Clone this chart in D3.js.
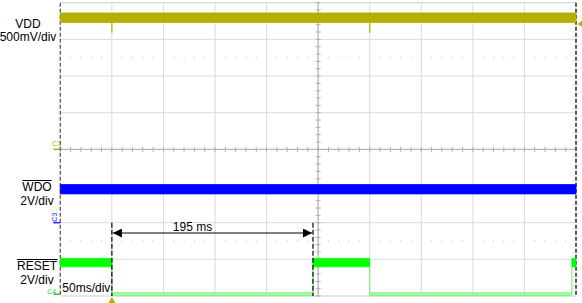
<!DOCTYPE html>
<html>
<head>
<meta charset="utf-8">
<script src="https://cdn.jsdelivr.net/npm/d3@7"></script>
<style>
  body { margin: 0; background: #fff; }
  text { font-family: "Liberation Sans", Arial, sans-serif; }
</style>
</head>
<body>
<svg id="scope" width="582" height="303"></svg>
<script>
// time in ms from the trigger, vertical in divisions
const timeDomain = [-50, 450]
const divDomain = [-4, 4]
const timeGrid = [0, 50, 100, 150, 200, 250, 300, 350, 400]
const divGrid = [-3, -2, -1, 0, 1, 2, 3]
const dottedRows = [2.5, -2.5]

// channels: volts per div and ground position (div)
const channelNames = ["VDD", "WDO", "RESET"]
const channelScale = ["500mV/div", "2V/div", "2V/div"]
const channelTag = ["C1", "C3", "C4"]
const voltsPerDiv = [0.5, 2, 2]
const groundDiv = [0, -2, -3.95]
const traceColor = ["#b5b000", "#0000ff", "#00ff00"]

// VDD, noisy band ~1.8 V with dips at the reset edges
const vddBand = [1.73, 1.86]
const vddDipTimes = [0, 250]
const vddDipLow = 1.59
const triggerLevel = 1.71

// WDO band
const wdoBand = [1.57, 2.08]

// RESET: edges and state between them
const resetEdges = [-50, 0, 195, 250, 446, 450]
const resetState = [1, 0, 1, 0, 1]
const resetHighBand = [1.49, 1.95]
const resetLowBand = [-0.08, 0.08]

// cursors
const cursorTimes = [0, 195]
const cursorText = "195 ms"
const timebase = "50ms/div"

let svg = d3.select("#scope")

let x = d3.scaleLinear().domain(timeDomain).range([60.3, 576])
let yDiv = d3.scaleLinear().domain(divDomain).range([296, 2.7])
let yCh = (i, v) => yDiv(groundDiv[i] + v / voltsPerDiv[i])

// ---- graticule
let grid = svg.append("g").attr("id", "grid")

grid.selectAll("line.v")
  .data(timeGrid)
  .join("line")
  .attr("class", "v")
  .attr("x1", d => x(d)).attr("x2", d => x(d))
  .attr("y1", yDiv(-4)).attr("y2", yDiv(4))
  .style("stroke", "#dadada")

grid.selectAll("line.h")
  .data(divGrid)
  .join("line")
  .attr("class", "h")
  .attr("x1", x(-50)).attr("x2", x(450))
  .attr("y1", d => yDiv(d)).attr("y2", d => yDiv(d))
  .style("stroke", "#dadada")

// top and bottom frame
grid.selectAll("line.f")
  .data([-4, 4])
  .join("line")
  .attr("class", "f")
  .attr("x1", x(-50)).attr("x2", x(450))
  .attr("y1", d => yDiv(d)).attr("y2", d => yDiv(d))
  .style("stroke", "#cfcfcf")

// dotted rows
let minorT = d3.range(-50, 451, 10).filter(t => (t + 50) % 50 != 0)
dottedRows.forEach(r => {
  grid.append("g").selectAll("rect")
    .data(minorT)
    .join("rect")
    .attr("x", d => x(d) - 0.5)
    .attr("y", yDiv(r) - 0.5)
    .attr("width", 1).attr("height", 1)
    .style("fill", "#bbbbbb")
})

// center cross with ticks
grid.append("line")
  .attr("x1", x(-50)).attr("x2", x(450))
  .attr("y1", yDiv(0)).attr("y2", yDiv(0))
  .style("stroke", "#b0b0b0")
grid.append("line")
  .attr("x1", x(200)).attr("x2", x(200))
  .attr("y1", yDiv(-4)).attr("y2", yDiv(4))
  .style("stroke", "#b0b0b0")
grid.append("g").selectAll("line")
  .data(d3.range(-50, 451, 10))
  .join("line")
  .attr("x1", d => x(d)).attr("x2", d => x(d))
  .attr("y1", yDiv(0) - 2.5).attr("y2", yDiv(0) + 2.5)
  .style("stroke", "#b0b0b0")
grid.append("g").selectAll("line")
  .data(d3.range(-4, 4.01, 0.2))
  .join("line")
  .attr("x1", x(200) - 2.5).attr("x2", x(200) + 2.5)
  .attr("y1", d => yDiv(d)).attr("y2", d => yDiv(d))
  .style("stroke", "#b0b0b0")

// left/right dashed borders
grid.selectAll("line.edge")
  .data(timeDomain)
  .join("line")
  .attr("class", "edge")
  .attr("x1", d => x(d)).attr("x2", d => x(d))
  .attr("y1", yDiv(4)).attr("y2", yDiv(-4))
  .style("stroke", "#5a5a5a")
  .style("stroke-width", d => d == 450 ? 2 : 1.3)
  .style("stroke-dasharray", "4,2")

// ---- traces
let band = (i, lo, hi) => d3.area()
  .x(d => x(d))
  .y0(yCh(i, lo))
  .y1(yCh(i, hi))

// VDD
svg.append("path")
  .attr("d", band(0, vddBand[0], vddBand[1])(timeDomain))
  .style("fill", traceColor[0])
  .style("stroke", traceColor[0])
  .style("stroke-width", 0.8)
svg.append("g").selectAll("line")
  .data(vddDipTimes)
  .join("line")
  .attr("x1", d => x(d)).attr("x2", d => x(d))
  .attr("y1", yCh(0, vddBand[0])).attr("y2", yCh(0, vddDipLow))
  .style("stroke", traceColor[0])
  .style("stroke-width", 1.2)

// WDO
svg.append("path")
  .attr("d", band(1, wdoBand[0], wdoBand[1])(timeDomain))
  .style("fill", traceColor[1])
  .style("stroke", traceColor[1])
  .style("stroke-width", 0.8)

// RESET
let resetSegs = resetState.map((s, k) => ({ s: s, t0: resetEdges[k], t1: resetEdges[k + 1] }))
svg.append("g").selectAll("path")
  .data(resetSegs)
  .join("path")
  .attr("d", d => d.s
    ? band(2, resetHighBand[0], resetHighBand[1])([d.t0, d.t1])
    : band(2, resetLowBand[0], resetLowBand[1])([d.t0, d.t1]))
  .style("fill", d => d.s ? traceColor[2] : "#9dff9d")
  .style("stroke", d => d.s ? traceColor[2] : "#7cf07c")
  .style("stroke-width", 0.8)
svg.append("g").selectAll("line")
  .data(resetEdges.slice(1, -1))
  .join("line")
  .attr("x1", d => x(d)).attr("x2", d => x(d))
  .attr("y1", yCh(2, resetLowBand[1])).attr("y2", yCh(2, resetHighBand[0]))
  .style("stroke", "#7cf07c")
  .style("stroke-width", 1.2)

// ---- cursors
let arrowY = 233
svg.append("defs").append("marker")
  .attr("id", "arr")
  .attr("viewBox", "0 0 10 10")
  .attr("refX", 10).attr("refY", 5)
  .attr("markerWidth", 9).attr("markerHeight", 9)
  .attr("markerUnits", "userSpaceOnUse")
  .attr("orient", "auto-start-reverse")
  .append("path")
  .attr("d", "M0,0L10,5L0,10Z")
  .style("fill", "#000")

svg.append("g").selectAll("line")
  .data(cursorTimes)
  .join("line")
  .attr("x1", d => x(d)).attr("x2", d => x(d))
  .attr("y1", yDiv(-2)).attr("y2", yDiv(-4))
  .style("stroke", "#000")
  .style("stroke-width", 1.2)
  .style("stroke-dasharray", "5,2")

svg.append("line")
  .attr("x1", x(cursorTimes[0]) + 1).attr("x2", x(cursorTimes[1]) - 1)
  .attr("y1", arrowY).attr("y2", arrowY)
  .style("stroke", "#000")
  .style("stroke-width", 1.2)
  .attr("marker-start", "url(#arr)")
  .attr("marker-end", "url(#arr)")

svg.append("text")
  .attr("x", x(cursorTimes[0]) + 61)
  .attr("y", arrowY - 2)
  .style("font-size", "12px")
  .style("fill", "#000")
  .text(cursorText)

// ---- markers (trigger, channel grounds)
svg.append("path")
  .attr("d", `M${x(0)},${yDiv(-4) + 1}l-3.5,6h7Z`)
  .style("fill", traceColor[0])
svg.append("path")
  .attr("d", `M${x(450) + 1.5},${yCh(0, triggerLevel)}l5,-3.5v7Z`)
  .style("fill", traceColor[0])

let tagColor = ["#b5b000", "#2a2aff", "#33cc33"]
channelTag.forEach((tag, i) => {
  let gy = yCh(i, 0)
  svg.append("line")
    .attr("x1", x(-50) - 7).attr("x2", x(-50))
    .attr("y1", gy).attr("y2", gy)
    .style("stroke", tagColor[i])
    .style("stroke-width", 1.5)
  let t = svg.append("text")
    .style("font-size", "7px")
    .style("fill", tagColor[i])
    .text(tag)
  if (i == 1) {
    t.attr("transform", `translate(${x(-50) - 3},${gy - 1}) rotate(-90)`)
  } else if (i == 0) {
    t.attr("x", x(-50) - 8).attr("y", gy - 3)
  } else {
    t.attr("x", x(-50) - 13).attr("y", gy)
  }
})

// ---- channel labels
let labelX = [28, 37, 37]
let labelY = [28, 191, 270]
channelNames.forEach((name, i) => {
  let t = svg.append("text")
    .attr("x", labelX[i]).attr("y", labelY[i])
    .attr("text-anchor", "middle")
    .style("font-size", "12px")
    .style("fill", "#000")
    .text(name)
  if (i > 0) {
    let bb = t.node().getBBox()
    svg.append("line")
      .attr("x1", bb.x).attr("x2", bb.x + bb.width)
      .attr("y1", bb.y + 0.5).attr("y2", bb.y + 0.5)
      .style("stroke", "#000")
  }
  svg.append("text")
    .attr("x", labelX[i]).attr("y", labelY[i] + (i == 0 ? 13 : 14))
    .attr("text-anchor", "middle")
    .style("font-size", "12px")
    .style("fill", "#000")
    .text(channelScale[i])
})

svg.append("text")
  .attr("x", x(-50) + 2)
  .attr("y", 292)
  .style("font-size", "12px")
  .style("fill", "#000")
  .text(timebase)
</script>
</body>
</html>
